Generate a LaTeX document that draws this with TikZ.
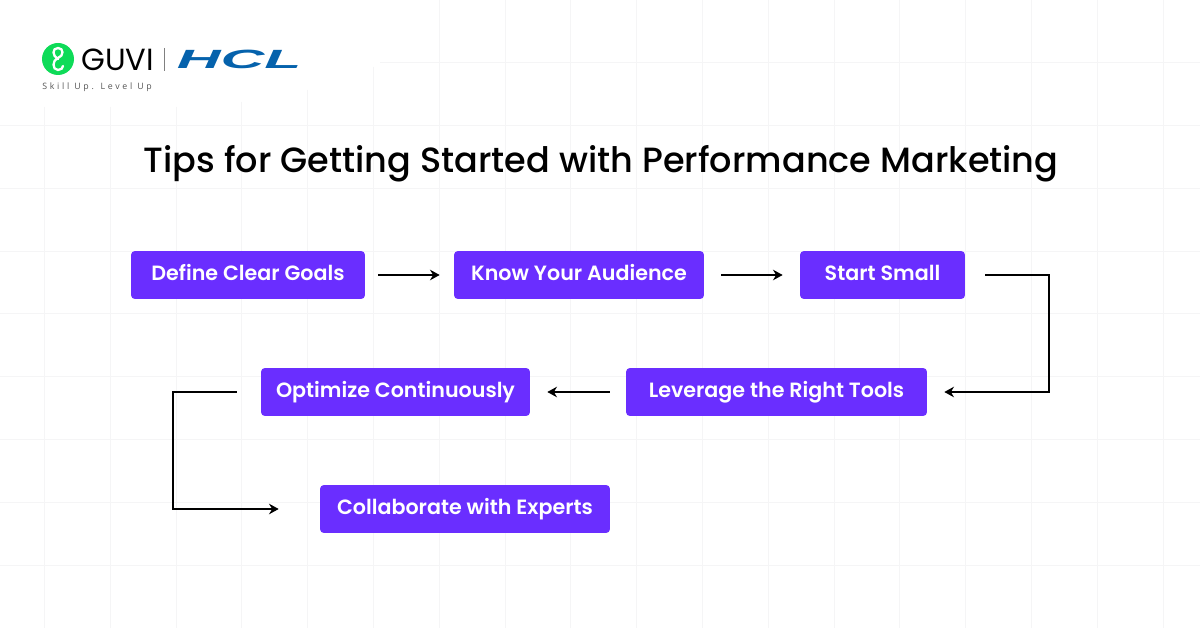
\documentclass[tikz,border=0pt]{standalone}
\definecolor{tipviolet}{RGB}{106, 46, 255}
\definecolor{gridgray}{RGB}{245, 245, 246}
\definecolor{guvigreen}{RGB}{14, 219, 88}
\definecolor{hclblue}{RGB}{5, 98, 172}
\definecolor{taggray}{RGB}{85, 85, 85}
\usepackage{fontspec}
\setmainfont{Poppins}
\newfontfamily\titlefont{Poppins Medium}
\newfontfamily\boxfont{Poppins SemiBold}
\newfontfamily\hclfont{Liberation Sans}
\newfontfamily\tagfont[LetterSpace=31]{Open Sans}
\usetikzlibrary{arrows.meta, positioning, calc}
\tikzset{
  tipbox/.style={fill=tipviolet, rounded corners=2.2pt, text=white, inner sep=0pt, minimum height=0.96cm, text height=9pt, text depth=2.6pt, font=\boxfont\fontsize{11.75}{13}\selectfont},
  flowline/.style={-{Stealth[length=5.5pt, width=6pt]}, line width=0.8pt, black, shorten <=0.26cm, shorten >=0.28cm},
  gridline/.style={gridgray, line width=0.55pt}
}
\begin{document}
\begin{tikzpicture}[x=0.02cm, y=-0.02cm]
  \useasboundingbox (0,0) rectangle (1200,628);
  \fill[white] (0,0) rectangle (1200,628);

  % Grid
  \foreach \yy in {125.5,188.3,251,313.8,376.6,439.4,502.2,565}
    \draw[gridline] (0,\yy) -- (1200,\yy);
  \draw[gridline] (380,62.7) -- (1200,62.7);
  \foreach \xx/\ystart in {44.4/107,110.2/107,176/107,241.8/102,307.6/90,373.4/67,439.2/0,505/0,570.8/0,636.6/0,702.4/0,768.2/0,834/0,899.8/0,965.6/0,1031.4/0,1097.2/0,1163/0}
    \draw[gridline] (\xx,\ystart) -- (\xx,628);

  % Logo
  \fill[guvigreen] (58,59) ellipse (16 and 16);
  \draw[white, line width=1.3pt, line cap=round] (58,59) .. controls (52,56) and (52,48) .. (58,48) .. controls (64,48) and (64,56) .. (58,58) .. controls (52,60) and (52,70) .. (58,70) .. controls (61,70) and (63,68) .. (63,66);
  \node[anchor=west, inner sep=0pt, font=\fontsize{17.4}{19}\selectfont] (guvi) at (81,60) {GUVI};
  \draw[gray, line width=0.4pt] (164.5,48) -- (164.5,71);
  \node[anchor=west, inner sep=0pt, text=hclblue, font=\hclfont\fontsize{15}{17}\selectfont\bfseries\itshape, xscale=2.3] (hcl) at (176,59) {HCL};
  \node[anchor=west, inner sep=0pt, text=taggray, font=\tagfont\fontsize{5}{6}\selectfont] (tagline) at (42,87) {Skill Up. Level Up};

  % Title
  \node[font=\titlefont\fontsize{19.95}{24}\selectfont] (title) at (601,164) {Tips for Getting Started with Performance Marketing};

  % Tips
  \node[tipbox, minimum width=4.68cm] (goals) at (248,275) {Define Clear Goals};
  \node[tipbox, minimum width=5cm] (audience) at (579,275) {Know Your Audience};
  \node[tipbox, minimum width=3.3cm] (small) at (882.5,275) {Start Small};
  \node[tipbox, minimum width=6.02cm] (tools) at (776.5,392) {Leverage the Right Tools};
  \node[tipbox, minimum width=5.38cm] (optimize) at (395.5,392) {Optimize Continuously};
  \node[tipbox, minimum width=5.8cm] (experts) at (465,509) {Collaborate with Experts};

  \coordinate (rightturn) at (1049,275);
  \coordinate (leftturn) at (173,392);

  % Arrows
  \draw[flowline] (goals) -- (audience);
  \draw[flowline, shorten <=0.34cm, shorten >=0.34cm] (audience) -- (small);
  \draw[flowline, shorten <=0.4cm, shorten >=0.34cm] (small) -- (rightturn) -- (rightturn |- tools.east) -- (tools);
  \draw[flowline, shorten <=0.32cm, shorten >=0.34cm] (tools) -- (optimize);
  \draw[flowline, shorten <=0.48cm, shorten >=0.82cm] (optimize) -- (leftturn) -- (leftturn |- experts.west) -- (experts);
\end{tikzpicture}
\end{document}
